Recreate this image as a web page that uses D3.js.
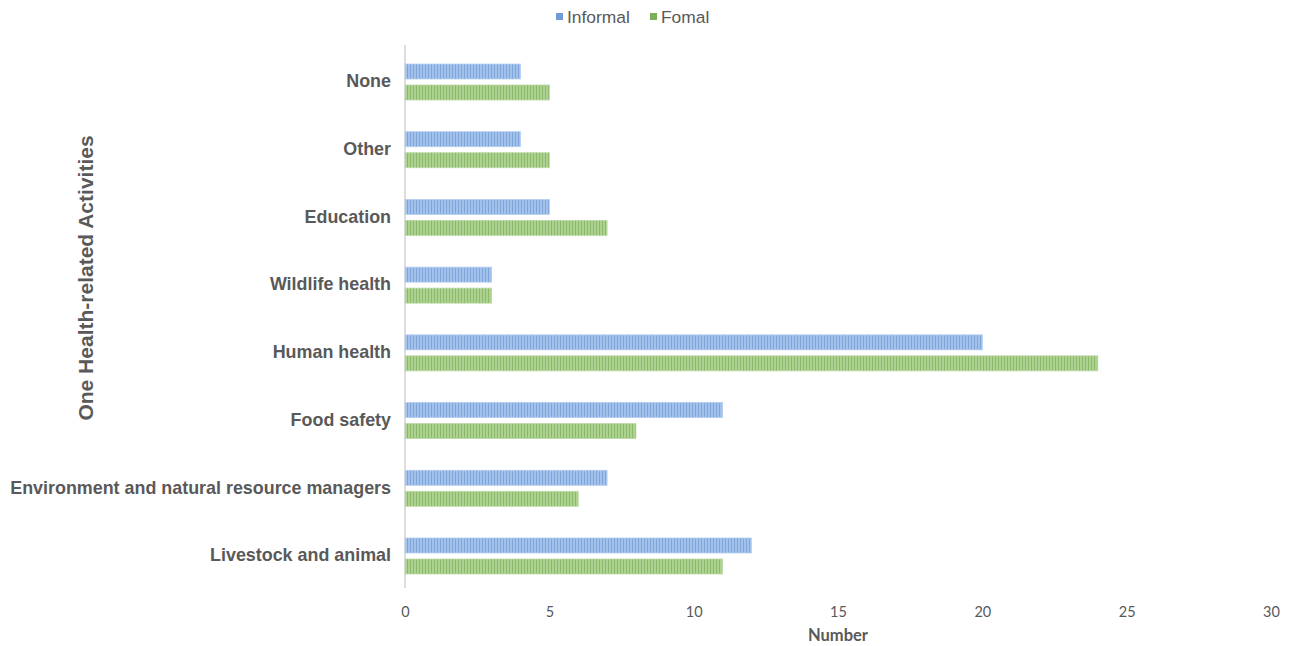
<!DOCTYPE html>
<html><head><meta charset="utf-8">
<script src="https://cdn.jsdelivr.net/npm/d3@7"></script>
<style>body{margin:0;background:#fff}svg{display:block}</style>
</head><body>
<svg id="c" width="1295" height="646"></svg>
<script>
const categories = ["None","Other","Education","Wildlife health","Human health","Food safety","Environment and natural resource managers","Livestock and animal"];
const seriesNames = ["Informal","Fomal"];
const informal = [4,4,5,3,20,11,7,12];
const formal = [5,5,7,3,24,8,6,11];
const xTicks = [0,5,10,15,20,25,30];

const svg = d3.select("#c");
const defs = svg.append("defs");
function stripe(id, light, dark){
  const p = defs.append("pattern").attr("id",id).attr("patternUnits","userSpaceOnUse")
    .attr("width",3).attr("height",10);
  p.append("rect").attr("width",3).attr("height",10).attr("fill",light);
  p.append("rect").attr("x",2).attr("width",1).attr("height",10).attr("fill",dark);
}
stripe("pb","#a2c2ec","#7ea6dc");
stripe("pg","#acd190","#8bba68");
const fills = ["url(#pb)","url(#pg)"];
const strokes = ["#b4cdef","#bcd9a5"];
const legendCol = ["#6f9bd8","#7daf58"];

const x = d3.scaleLinear().domain([0,30]).range([405,1271]);
const step = 67.7, pi = 1-36/step, po = pi/2;
const y0 = d3.scaleBand().domain(categories)
  .range([64 - po*step, 574 + po*step]).paddingInner(pi).paddingOuter(po);
const y1 = d3.scaleBand().domain(seriesNames).range([0,y0.bandwidth()]).paddingInner(0.286);

const data = categories.map((c,i)=>({c, vals:[informal[i],formal[i]]}));
const g = svg.append("g");
const grp = g.selectAll("g.cat").data(data).join("g").attr("transform",d=>`translate(0,${y0(d.c)})`);
grp.selectAll("rect").data(d=>d.vals.map((v,j)=>({v,j}))).join("rect")
  .attr("x",x(0)).attr("y",d=>y1(seriesNames[d.j]))
  .attr("width",d=>x(d.v)-x(0)).attr("height",y1.bandwidth())
  .attr("fill",d=>fills[d.j]).attr("stroke",d=>strokes[d.j]).attr("stroke-width",0.8);

// y axis line
svg.append("line").attr("x1",405).attr("x2",405).attr("y1",45).attr("y2",588)
  .attr("stroke","#c8c8c8").attr("stroke-width",1.2);

// category labels
svg.selectAll("text.cat").data(categories).join("text").attr("class","cat")
  .attr("x",391).attr("y",d=>y0(d)+y0.bandwidth()/2 - 1).attr("dy","0.35em")
  .attr("text-anchor","end").attr("font-family","Liberation Sans, Arial, sans-serif")
  .attr("font-weight","bold").attr("font-size",17.9).attr("fill","#595959").text(d=>d);

// x axis
const xAxis = d3.axisBottom(x).tickValues(xTicks).tickSize(0).tickPadding(0);
const ax = svg.append("g").attr("transform","translate(0,607)").call(xAxis);
ax.select(".domain").remove();
ax.selectAll("text").attr("font-family","Lato, 'Open Sans', sans-serif").attr("font-size",14.5).attr("fill","#595959");

svg.append("text").attr("x",838).attr("y",641).attr("text-anchor","middle")
  .attr("font-family","Lato, sans-serif").attr("font-weight","bold").attr("font-size",16.5).attr("fill","#595959").text("Number");

svg.append("text").attr("transform","translate(93,278) rotate(-90)").attr("text-anchor","middle")
  .attr("font-family","Liberation Sans, Arial, sans-serif").attr("font-weight","bold").attr("font-size",21).attr("fill","#595959")
  .text("One Health-related Activities");

// legend
const lg = svg.append("g");
const lx = [556,650];
seriesNames.forEach((s,i)=>{
  lg.append("rect").attr("x",lx[i]).attr("y",13).attr("width",7).attr("height",7).attr("fill",legendCol[i]);
  lg.append("text").attr("x",lx[i]+11).attr("y",17).attr("dy","0.35em")
    .attr("font-family","Liberation Sans, Arial, sans-serif").attr("font-size",17.4).attr("fill","#595959").text(s);
});
</script>
</body></html>
